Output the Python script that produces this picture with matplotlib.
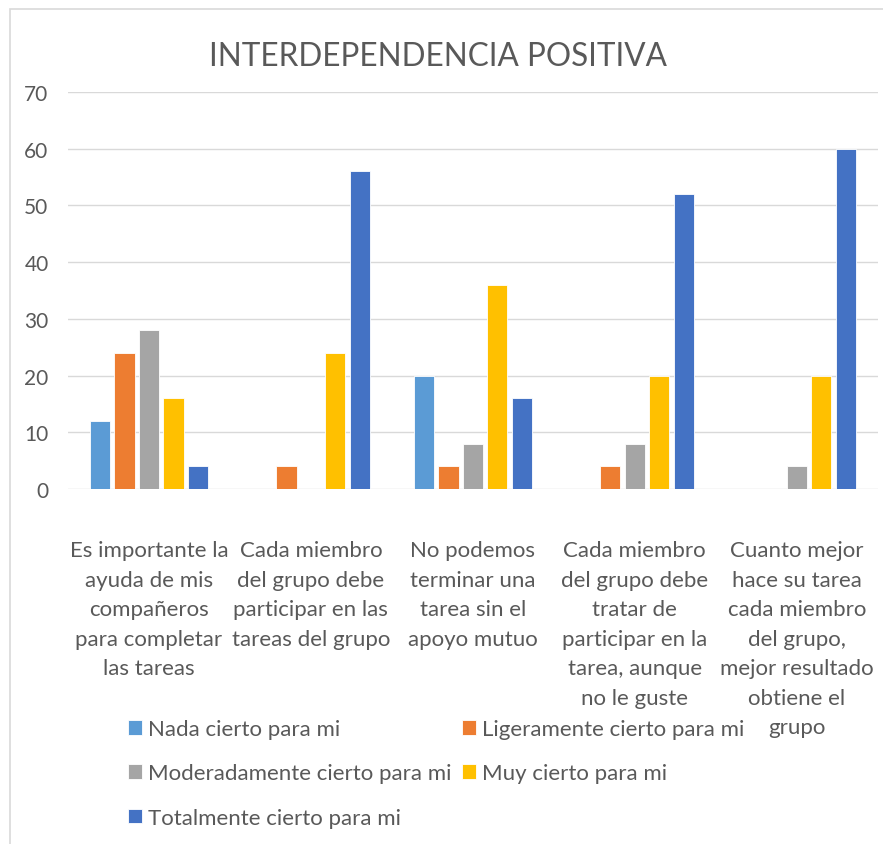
import matplotlib.pyplot as plt
import numpy as np
from matplotlib.patches import Rectangle

categories = [
    "Es importante la\nayuda de mis\ncompañeros\npara completar\nlas tareas",
    "Cada miembro\ndel grupo debe\nparticipar en las\ntareas del grupo",
    "No podemos\nterminar una\ntarea sin el\napoyo mutuo",
    "Cada miembro\ndel grupo debe\ntratar de\nparticipar en la\ntarea, aunque\nno le guste",
    "Cuanto mejor\nhace su tarea\ncada miembro\ndel grupo,\nmejor resultado\nobtiene el\ngrupo",
]
series_names = [
    "Nada cierto para mi",
    "Ligeramente cierto para mi",
    "Moderadamente cierto para mi",
    "Muy cierto para mi",
    "Totalmente cierto para mi",
]
nada = [12, 0, 20, 0, 0]
ligeramente = [24, 4, 4, 4, 0]
moderadamente = [28, 0, 8, 8, 4]
muy = [16, 24, 36, 20, 20]
totalmente = [4, 56, 16, 52, 60]
colors = ["#5B9BD5", "#ED7D31", "#A5A5A5", "#FFC000", "#4472C4"]

plt.rcParams["font.family"] = ["Lato", "DejaVu Sans"]
text_color = "#595959"

fig = plt.figure(figsize=(8.83, 8.45), dpi=100)
ax = fig.add_axes([0.077, 0.420, 0.917, 0.470])

# borde del gráfico
fig.patches.append(Rectangle((10 / 883, -0.1), 1.2, 1 - 10 / 845 + 0.1,
                             transform=fig.transFigure, fill=False,
                             edgecolor="#D9D9D9", linewidth=1.2))

x = np.arange(len(categories))
width = 0.125
pitch = 0.151
handles = []
for i, (vals, name) in enumerate(zip([nada, ligeramente, moderadamente, muy, totalmente], series_names)):
    b = ax.bar(x + (i - 2) * pitch, vals, width, color=colors[i],
               edgecolor="white", linewidth=0.6, label=name, zorder=3)
    handles.append(b)

ax.set_xlim(-0.5, len(categories) - 0.5)
ax.set_ylim(0, 70)
ax.set_yticks(range(0, 71, 10))
ax.yaxis.grid(True, color="#D9D9D9", linewidth=1.0, zorder=0)
for s in ax.spines.values():
    s.set_visible(False)
ax.tick_params(axis="y", length=0, pad=14, labelsize=15, labelcolor=text_color)
ax.tick_params(axis="x", length=0, pad=37, labelsize=16, labelcolor=text_color)
ax.set_xticks(x)
ax.set_xticklabels(categories, va="top", linespacing=1.59)

fig.text(0.496, 0.932, "INTERDEPENDENCIA POSITIVA", ha="center", va="center",
         fontsize=22.7, color=text_color)

order = [0, 2, 4, 1, 3]
fig.legend([handles[i] for i in order], [series_names[i] for i in order],
           ncol=2, loc="upper left", bbox_to_anchor=(0.145, 0.148),
           frameon=False, fontsize=16, labelcolor=text_color,
           handlelength=0.65, handleheight=0.65, handletextpad=0.25,
           columnspacing=0.45, labelspacing=1.1, borderaxespad=0,
           borderpad=0)

fig.savefig("out.png", dpi=100)
